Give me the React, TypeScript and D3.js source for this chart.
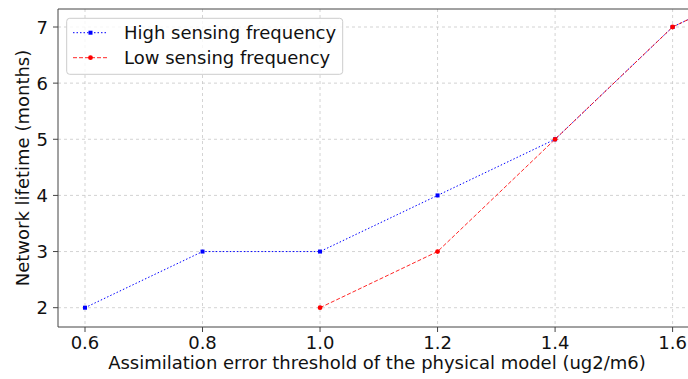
import React from "react";
import * as d3 from "d3";

const highX = [0.6, 0.8, 1.0, 1.2, 1.4, 1.6, 1.8];
const highY = [2, 3, 3, 4, 5, 7, 8];
const lowX = [1.0, 1.2, 1.4, 1.6, 1.8];
const lowY = [2, 3, 5, 7, 8];
const xTicks = [0.6, 0.8, 1.0, 1.2, 1.4, 1.6];
const yTicks = [2, 3, 4, 5, 6, 7];
const seriesNames = ["High sensing frequency", "Low sensing frequency"];

const W = 688, H = 379;
const L = 58, T = 9, B = 327, R = 696;
const FONT = "DejaVu Sans, sans-serif";
const FS = 18;
const TXT = "#111";

export default function App() {
  const x = d3.scaleLinear().domain([0.6, 1.6]).range([85, 672.6]);
  const y = d3.scaleLinear().domain([2, 7]).range([307.7, 27]);
  const line = d3.line<[number, number]>().x(d => x(d[0])).y(d => y(d[1]));
  const high = highX.map((v, i) => [v, highY[i]] as [number, number]);
  const low = lowX.map((v, i) => [v, lowY[i]] as [number, number]);
  return (
    <svg width={W} height={H} style={{ position: "absolute", left: 0, top: 0, background: "#fff" }}>
      <defs>
        <clipPath id="clip"><rect x={L} y={T} width={R - L} height={B - T} /></clipPath>
      </defs>
      {xTicks.map(t => (
        <line key={"gx" + t} x1={x(t)} x2={x(t)} y1={T} y2={B} stroke="#c8c8c8" strokeWidth={0.8} strokeDasharray="3,3" />
      ))}
      {yTicks.map(t => (
        <line key={"gy" + t} x1={L} x2={R} y1={y(t)} y2={y(t)} stroke="#c8c8c8" strokeWidth={0.8} strokeDasharray="3,3" />
      ))}
      <g clipPath="url(#clip)">
        <path d={line(high) || ""} fill="none" stroke="#0000ff" strokeWidth={1} strokeDasharray="1.5,2" />
        {high.map((d, i) => (
          <rect key={"hm" + i} x={x(d[0]) - 2} y={y(d[1]) - 2} width={4} height={4} fill="#0000ff" />
        ))}
        <path d={line(low) || ""} fill="none" stroke="#ff0000" strokeOpacity={0.85} strokeWidth={1} strokeDasharray="4,2" />
        {low.map((d, i) => (
          <circle key={"lm" + i} cx={x(d[0])} cy={y(d[1])} r={2.4} fill="#ff0000" />
        ))}
      </g>
      <line x1={L} x2={L} y1={T} y2={B} stroke="#444" strokeWidth={1} />
      <line x1={L} x2={R} y1={B} y2={B} stroke="#444" strokeWidth={1} />
      <line x1={L} x2={R} y1={T} y2={T} stroke="#444" strokeWidth={1} />
      {xTicks.map(t => (
        <g key={"tx" + t}>
          <line x1={x(t)} x2={x(t)} y1={B} y2={B + 5} stroke="#444" />
          <text x={x(t)} y={B + 22} textAnchor="middle" fontFamily={FONT} fontSize={FS} fill={TXT}>{t.toFixed(1)}</text>
        </g>
      ))}
      {yTicks.map(t => (
        <g key={"ty" + t}>
          <line x1={L - 5} x2={L} y1={y(t)} y2={y(t)} stroke="#444" />
          <text x={L - 10} y={y(t) + 6.5} textAnchor="end" fontFamily={FONT} fontSize={FS} fill={TXT}>{t}</text>
        </g>
      ))}
      <text x={(L + R) / 2} y={369} textAnchor="middle" fontFamily={FONT} fontSize={FS} fill={TXT}>
        Assimilation error threshold of the physical model (ug2/m6)
      </text>
      <text transform={`translate(28.5,${(T + B) / 2}) rotate(-90)`} textAnchor="middle" fontFamily={FONT} fontSize={FS} fill={TXT}>
        Network lifetime (months)
      </text>
      <rect x={66.7} y={18.3} width={276} height={56} rx={3} fill="#fff" fillOpacity={0.8} stroke="#ccc" />
      <line x1={73} x2={108} y1={32.7} y2={32.7} stroke="#0000ff" strokeWidth={1} strokeDasharray="1.5,2" />
      <rect x={88.5} y={30.7} width={4} height={4} fill="#0000ff" />
      <text x={124} y={38.5} fontFamily={FONT} fontSize={FS} fill={TXT}>{seriesNames[0]}</text>
      <line x1={73} x2={108} y1={57.7} y2={57.7} stroke="#ff0000" strokeOpacity={0.85} strokeWidth={1} strokeDasharray="4,2" />
      <circle cx={90.5} cy={57.7} r={2.4} fill="#ff0000" />
      <text x={124} y={63.5} fontFamily={FONT} fontSize={FS} fill={TXT}>{seriesNames[1]}</text>
    </svg>
  );
}
